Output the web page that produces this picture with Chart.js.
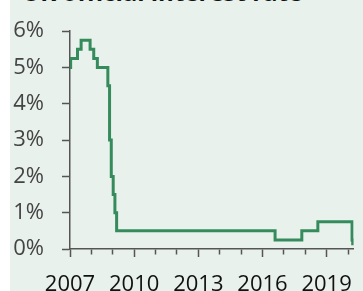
<!DOCTYPE html>
<html>
<head>
<meta charset="utf-8">
<script src="https://cdn.jsdelivr.net/npm/chart.js@4"></script>
<style>
  html, body { margin: 0; padding: 0; background: #fff; overflow: hidden; }
  #wrap { position: relative; width: 363px; height: 291px; }
  #bg { position: absolute; left: 10px; top: 0; right: 0; bottom: 0; background: #e8f1ec; }
  #title { position: absolute; left: 22px; top: -20px; font: bold 24px/24px "Open Sans", sans-serif; color: #111; white-space: nowrap; }
  canvas { position: absolute; left: 0; top: 0; }
</style>
</head>
<body>
<div id="wrap">
  <div id="bg"></div>
  <div id="title">UK official interest rate</div>
  <canvas id="c" width="363" height="291"></canvas>
</div>
<script>
// Bank Rate changes: date (decimal year) and new rate (%)
const changeDates = [2007.0, 2007.03, 2007.35, 2007.52, 2007.94, 2008.11, 2008.28, 2008.77, 2008.85, 2008.93,
  2009.02, 2009.10, 2009.18, 2016.59, 2017.84, 2018.59, 2020.19, 2020.22];
const rates = [5.0, 5.25, 5.5, 5.75, 5.5, 5.25, 5.0, 4.5, 3.0, 2.0,
  1.5, 1.0, 0.5, 0.25, 0.5, 0.75, 0.25, 0.1];
const yTicks = [0, 1, 2, 3, 4, 5, 6];
const xMin = 2007, xMax = 2020.26;

const axisCol = '#555';
const font = { family: '"Open Sans", sans-serif', size: 22 };

new Chart(document.getElementById('c'), {
  type: 'line',
  data: {
    datasets: [{
      data: changeDates.map((d, i) => ({ x: d, y: rates[i] })),
      borderColor: '#358b5c', borderWidth: 3, stepped: true,
      pointRadius: 0, fill: false
    }]
  },
  options: {
    responsive: false, animation: false,
    layout: { padding: { top: 25, right: 0, left: 0, bottom: 0 } },
    plugins: { legend: { display: false }, tooltip: { enabled: false } },
    scales: {
      x: {
        type: 'linear', min: xMin, max: xMax,
        afterFit: s => { s.height = 42; },
        border: { color: axisCol, width: 1.5 },
        grid: {
          drawOnChartArea: false, tickLength: 8, tickColor: axisCol, tickWidth: 1.5,
          tickBorderDash: ctx => (ctx.tick && ctx.tick.value % 3 === 0) ? [] : [5, 50]
        },
        ticks: {
          stepSize: 1, includeBounds: false, autoSkip: false, maxRotation: 0, padding: 15,
          color: '#111', font,
          callback: v => v % 3 === 0 ? String(v) : ''
        }
      },
      y: {
        min: 0, max: 6,
        afterFit: s => { s.width = 70; },
        afterBuildTicks: s => { s.ticks = yTicks.map(v => ({ value: v })); },
        border: { color: axisCol, width: 1.5 },
        grid: { drawOnChartArea: false, tickLength: 8, tickColor: axisCol, tickWidth: 1.5 },
        ticks: { padding: 18, color: '#444', font, callback: v => v + '%' }
      }
    }
  }
});
</script>
</body>
</html>
